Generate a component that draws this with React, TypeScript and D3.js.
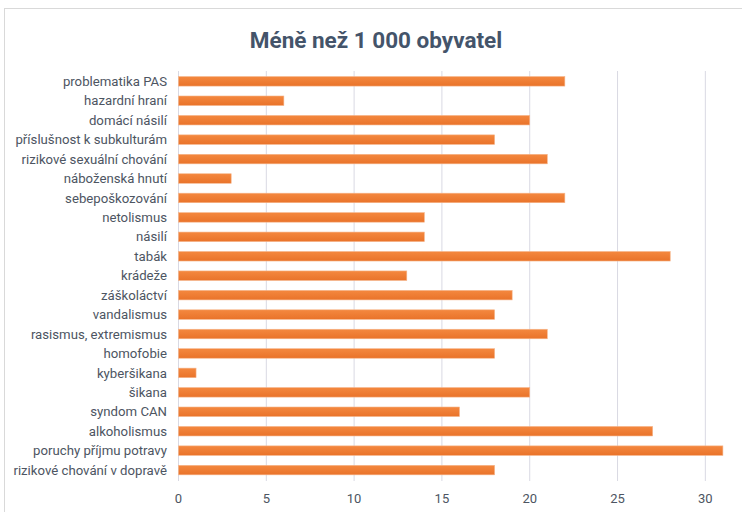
import React from "react";
import * as d3 from "d3";

const categories: string[] = [
  "problematika PAS",
  "hazardní hraní",
  "domácí násilí",
  "příslušnost k subkulturám",
  "rizikové sexuální chování",
  "náboženská hnutí",
  "sebepoškozování",
  "netolismus",
  "násilí",
  "tabák",
  "krádeže",
  "záškoláctví",
  "vandalismus",
  "rasismus, extremismus",
  "homofobie",
  "kyberšikana",
  "šikana",
  "syndom CAN",
  "alkoholismus",
  "poruchy příjmu potravy",
  "rizikové chování v dopravě",
];
const values: number[] = [22, 6, 20, 18, 21, 3, 22, 14, 14, 28, 13, 19, 18, 21, 18, 1, 20, 16, 27, 31, 18];
const xTicks: number[] = [0, 5, 10, 15, 20, 25, 30];
const title = "Méně než 1 000 obyvatel";

const W = 742;
const H = 512;
const left = 178.5;
const right = 722.9;
const top = 71.6;
const bottom = 479.8;
const labelFont = "Roboto, 'Open Sans', sans-serif";

export default function App() {
  const x = d3.scaleLinear().domain([0, 31]).range([left, right]);
  const y = d3.scaleBand<string>().domain(categories).range([top, bottom]).paddingInner(0.51).paddingOuter(0.255);
  return (
    <svg width={W} height={H} style={{ position: "absolute", left: 0, top: 0, background: "#fff" }}>
      <defs>
        <linearGradient id="barGrad" x1="0" y1="0" x2="0" y2="1">
          <stop offset="0" stopColor="#f4883f" />
          <stop offset="1" stopColor="#e9732a" />
        </linearGradient>
      </defs>
      <rect x={4.5} y={8.5} width={W + 10} height={H + 10} fill="#fff" stroke="#d9d9d9" strokeWidth={1} />
      <text x={376} y={48} textAnchor="middle" fontFamily={labelFont} fontWeight={700} fontSize={22.5} fill="#44546a">
        {title}
      </text>
      {xTicks.map((t) => (
        <line key={t} x1={x(t)} x2={x(t)} y1={71} y2={481} stroke="#d9d9e3" strokeWidth={1} />
      ))}
      {categories.map((c, i) => (
        <g key={c}>
          <rect
            x={x(0)}
            y={y(c)!}
            width={x(values[i]) - x(0)}
            height={y.bandwidth()}
            fill="url(#barGrad)"
            stroke="#f6b58a"
            strokeWidth={0.6}
          />
          <text
            x={167}
            y={y(c)! + y.bandwidth() / 2}
            dy="0.35em"
            textAnchor="end"
            fontFamily={labelFont}
            fontSize={13.2}
            fill="#4d5562"
          >
            {c}
          </text>
        </g>
      ))}
      {xTicks.map((t) => (
        <text key={t} x={x(t)} y={498} dy="0.35em" textAnchor="middle" fontFamily={labelFont} fontSize={13} fill="#4d5562">
          {t}
        </text>
      ))}
    </svg>
  );
}
